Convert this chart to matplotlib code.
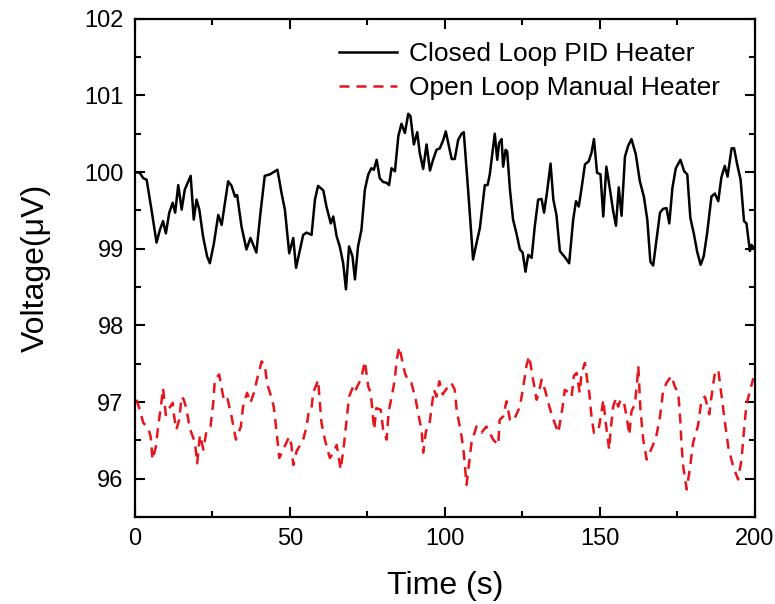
import numpy as np
import matplotlib.pyplot as plt
from matplotlib.ticker import MultipleLocator

plt.rcParams['font.family'] = ['Liberation Sans', 'DejaVu Sans']

# Closed loop PID heater (black solid)
t_closed = [0, 1.6, 2.7, 3.8, 5.4, 7, 8.1, 9.1, 10, 11.1, 12.2, 13, 14, 15.1, 16.1, 18, 19, 19.9,
            20.8, 22, 23.3, 24.2, 25.5, 26.9, 28, 30.1, 31.2, 32.3, 33, 34.4, 36, 37.3, 39.2, 40.5,
            41.9, 43.6, 46, 47.3, 48.4, 49.8, 51.1, 52, 54.3, 55.4, 57, 58.1, 59.1, 60.8, 61.8, 63.2,
            64, 65.1, 66.1, 67.2, 68.1, 69.1, 70.2, 71, 72, 73.1, 74.2, 75.3, 76.3, 77.1, 78, 79,
            80.1, 81.2, 82, 82.8, 83.9, 85, 86, 87.1, 88.2, 88.9, 90, 91.1, 91.9, 93, 94.1, 95.2,
            96.2, 97.3, 98.4, 99.5, 100.3, 101.1, 102.2, 103.2, 104.3, 105.4, 106.1, 107.5, 109.1,
            110.2, 111.3, 112.9, 113.8, 114.5, 116.1, 116.9, 117.5, 118.3, 118.8, 119.6, 120.1, 121,
            122, 123.1, 124.2, 125.1, 126, 126.9, 128, 129, 130.1, 131.2, 132, 133, 134.1, 135,
            136, 137.1, 138.7, 140.1, 141.4, 142.3, 143.2, 144.1, 145.2, 146.4, 147.3, 148.1, 149.1,
            150.2, 151.1, 152.1, 153.2, 154.3, 155.2, 156.1, 157, 158.1, 159.1, 160.2, 161.6, 162.9,
            164.2, 165.3, 166.3, 167.2, 168.3, 169.4, 170.4, 171.5, 172.4, 173.4, 174.5, 176, 177.2,
            178.2, 179.2, 180.3, 181.4, 182.5, 183.5, 184.6, 186, 187.1, 188.2, 189.2, 190.3, 191.2,
            192.5, 193.3, 194.3, 195.4, 196.5, 197.3, 198.4, 198.9, 199.7]
v_closed = [100.0, 99.99, 99.92, 99.9, 99.5, 99.08, 99.25, 99.36, 99.2, 99.47, 99.6, 99.47, 99.83,
            99.51, 99.77, 99.95, 99.38, 99.64, 99.51, 99.16, 98.9, 98.81, 99.07, 99.44, 99.31, 99.88,
            99.82, 99.68, 99.7, 99.29, 98.99, 99.14, 98.95, 99.46, 99.95, 99.97, 100.03, 99.73, 99.51,
            98.94, 99.14, 98.75, 99.18, 99.21, 99.18, 99.64, 99.82, 99.76, 99.55, 99.33, 99.42,
            99.16, 99.03, 98.81, 98.47, 99.03, 98.9, 98.6, 99.03, 99.25, 99.77, 99.97, 100.05,
            100.03, 100.16, 99.92, 99.87, 99.86, 99.83, 100.05, 100.01, 100.47, 100.63, 100.51,
            100.76, 100.73, 100.36, 100.52, 100.25, 100.04, 100.36, 100.02, 100.16, 100.29, 100.31,
            100.42, 100.53, 100.38, 100.17, 100.17, 100.42, 100.5, 100.52, 99.77, 98.86, 99.07,
            99.27, 99.83, 99.83, 99.97, 100.5, 100.16, 100.38, 100.43, 100.07, 100.29, 100.27,
            99.77, 99.38, 99.2, 98.99, 98.95, 98.7, 98.92, 98.88, 99.29, 99.64, 99.65, 99.47, 99.75,
            100.11, 99.64, 99.44, 98.97, 98.89, 98.81, 99.38, 99.62, 99.55, 99.79, 100.1, 100.14,
            100.25, 100.43, 99.99, 99.97, 99.42, 100.07, 99.79, 99.49, 99.3, 99.8, 99.43, 100.2,
            100.34, 100.43, 100.23, 99.88, 99.68, 99.38, 98.83, 98.78, 99.12, 99.47, 99.52, 99.53,
            99.33, 99.79, 100.05, 100.16, 100.01, 99.97, 99.4, 99.2, 98.96, 98.79, 98.9, 99.2,
            99.68, 99.72, 99.62, 99.93, 100.08, 99.94, 100.31, 100.31, 100.1, 99.9, 99.36, 99.33,
            98.97, 99.05, 99.01]

# Open loop manual heater (red dashed)
t_open = [0.5, 1.6, 2.7, 4.3, 5.1, 5.7, 6.8, 7.5, 8.4, 9.1, 10, 10.8, 12.2, 12.6, 13.4, 14.3, 15.1,
          15.8, 16.7, 17.7, 19.4, 20.1, 21, 22.1, 23.1, 24.4, 25.3, 25.8, 27.2, 27.9, 28.8, 29.9,
          31.2, 32.6, 34.2, 34.9, 36.2, 37.3, 38.4, 39.8, 40.9, 41.9, 42.7, 43.6, 44.8, 45.7, 46.6,
          49.8, 50.5, 51.1, 52.2, 54.3, 55.4, 56.2, 57, 57.5, 58.6, 59.1, 59.7, 60.2, 61.3, 62.9,
          64, 65.1, 66.4, 67.4, 68.3, 69.1, 70.4, 71, 72.8, 73.4, 74.2, 75.3, 76.1, 76.6, 77.2,
          77.9, 79.3, 80.1, 81.2, 81.9, 83.1, 83.9, 84.4, 85.3, 87.1, 88.2, 89.2, 90.6, 91.9, 92.5,
          93, 93.9, 95, 95.7, 96.5, 97.3, 98.2, 99.3, 100.3, 102.1, 103.2, 103.8, 105.4, 106.1,
          107, 107.7, 108.6, 110.2, 111.8, 113.4, 115.6, 117.2, 117.7, 118.8, 119.9, 121, 122.1,
          124.2, 125.3, 126.3, 127.2, 128.3, 129.6, 130.4, 131.2, 132.3, 133.7, 135, 136.6, 138,
          138.7, 140.1, 140.9, 141.6, 142.5, 143.5, 144.1, 145.2, 145.9, 146.6, 147.3, 148.1,
          149.5, 150.5, 151.1, 151.9, 153, 153.5, 154.3, 155.2, 155.9, 156.7, 157.7, 158.8, 159.5,
          160.2, 161.3, 162, 162.4, 163.1, 164, 165.1, 166.1, 168.1, 169.4, 170.4, 171.5, 173.1,
          174.2, 175.3, 176, 176.3, 176.9, 178, 179, 180.1, 181.7, 182.8, 183.9, 185.3, 186, 187.1,
          188.2, 189.3, 190.3, 191.4, 193, 194.6, 195.7, 196.6, 197.3, 198.4, 199.5]
v_open = [97.03, 96.9, 96.73, 96.66, 96.55, 96.25, 96.42, 96.68, 96.94, 97.18, 96.83, 96.9, 96.99,
          96.83, 96.64, 96.77, 97.07, 97.03, 96.9, 96.66, 96.47, 96.2, 96.57, 96.38, 96.62, 96.68,
          96.99, 97.29, 97.36, 97.2, 97.01, 97.04, 96.81, 96.51, 96.68, 96.94, 97.12, 96.99, 97.12,
          97.36, 97.53, 97.49, 97.23, 97.12, 96.94, 96.62, 96.27, 96.55, 96.44, 96.18, 96.36,
          96.51, 96.68, 96.9, 96.92, 97.12, 97.23, 97.29, 96.99, 96.73, 96.51, 96.27, 96.33,
          96.44, 96.12, 96.42, 96.77, 97.07, 97.2, 97.14, 97.29, 97.38, 97.53, 97.2, 97.12, 96.9,
          96.64, 96.92, 96.9, 96.64, 96.51, 96.88, 97.12, 97.31, 97.53, 97.72, 97.38, 97.27,
          97.25, 97.03, 96.75, 96.64, 96.34, 96.62, 96.7, 96.92, 97.16, 97.07, 97.27, 97.1, 97.16,
          97.25, 97.16, 96.9, 96.55, 96.34, 95.92, 96.16, 96.47, 96.68, 96.6, 96.68, 96.51, 96.44,
          96.77, 96.81, 97.01, 96.77, 96.75, 96.94, 97.2, 97.47, 97.6, 97.33, 97.03, 97.14, 97.29,
          97.16, 96.94, 96.77, 96.6, 96.94, 97.16, 97.12, 97.07, 97.34, 97.38, 97.12, 97.38,
          97.51, 97.29, 97.12, 96.81, 96.6, 96.62, 96.86, 97.03, 96.73, 96.38, 96.64, 96.94,
          97.05, 96.94, 97.03, 97.01, 96.77, 96.57, 96.88, 96.97, 97.25, 97.47, 96.9, 96.51,
          96.25, 96.34, 96.53, 96.81, 97.14, 97.25, 97.34, 97.2, 97.12, 96.73, 96.47, 96.16,
          95.86, 96.12, 96.47, 96.7, 97.03, 97.07, 96.84, 97.07, 97.38, 97.42, 97.07, 96.75,
          96.42, 96.16, 95.99, 96.25, 96.68, 96.97, 97.14, 97.31]

fig = plt.figure(figsize=(7.75, 6.04), dpi=100)
ax = fig.add_axes([0.174, 0.144, 0.8, 0.825])

ax.plot(t_closed, v_closed, color='black', lw=1.8, label='Closed Loop PID Heater')
ax.plot(t_open, v_open, color='#e8141c', lw=1.8, linestyle=(0, (4, 2.8)),
        label='Open Loop Manual Heater')

ax.set_xlim(0, 200)
ax.set_ylim(95.5, 102)
ax.xaxis.set_major_locator(MultipleLocator(50))
ax.xaxis.set_minor_locator(MultipleLocator(25))
ax.yaxis.set_major_locator(MultipleLocator(1))
ax.yaxis.set_minor_locator(MultipleLocator(0.5))
ax.tick_params(which='both', direction='in', top=True, right=True, width=1.5,
               labelsize=17, pad=8)
ax.tick_params(which='major', length=7)
ax.tick_params(which='minor', length=4)
for s in ax.spines.values():
    s.set_linewidth(1.6)

ax.set_xlabel('Time (s)', fontsize=23, labelpad=15)
ax.set_ylabel('Voltage(μV)', fontsize=23, labelpad=24)

ax.legend(loc='upper left', bbox_to_anchor=(0.329, 0.953), frameon=False, fontsize=19,
          handlelength=2.2, handletextpad=0.45, labelspacing=0.38, borderpad=0,
          borderaxespad=0)

fig.savefig('out.png', dpi=100)
